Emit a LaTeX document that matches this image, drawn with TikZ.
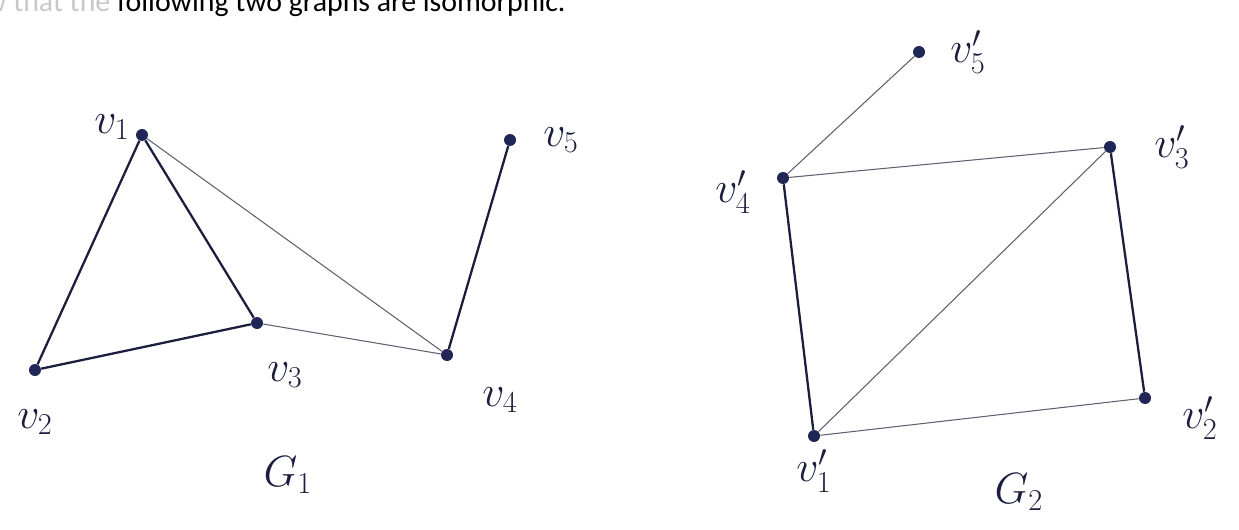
\documentclass[tikz,border=0pt]{standalone}
\usepackage{fontspec}
\usepackage{tikz}
\usetikzlibrary{positioning}
\newfontfamily\headfont{Carlito}
\definecolor{inkNavy}{RGB}{28,30,62}
\definecolor{inkDot}{RGB}{32,38,86}
\definecolor{inkThin}{RGB}{95,96,112}
\definecolor{inkFaint}{RGB}{200,200,200}
\tikzset{
    header/.style={font=\headfont\fontsize{17}{20}\selectfont, inner sep=0pt},
    vertex/.style={circle, fill=inkDot, inner sep=0pt, minimum size=2.4mm},
    vlabel/.style={font=\fontsize{24}{26}\selectfont, text=inkNavy, inner sep=0pt},
    glabel/.style={font=\fontsize{26}{28}\selectfont, text=inkNavy, inner sep=0pt},
    heavy/.style={draw=inkNavy, line width=1.3pt},
    light/.style={draw=inkThin, line width=0.6pt}
}

\begin{document}
\begin{tikzpicture}[x=0.02cm, y=-0.02cm, node distance=1cm, on grid]
  \clip (0,0) rectangle (1239,530);

  % Question line, cut at the top
  \node[header, anchor=base east] (title) at (566,12)
    {{\color{inkFaint}Show that the }following two graphs are isomorphic.};

  % Graph G1
  \node[vertex] (v1) at (142,135) {};
  \node[vertex] (v2) at (35,370) {};
  \node[vertex] (v3) at (257,323) {};
  \node[vertex] (v4) at (447,355) {};
  \node[vertex] (v5) at (510,140) {};

  \node[vlabel, above left=0.16cm and 0.6cm of v1] (l1) {$v_1$};
  \node[vlabel, below=1.04cm of v2] (l2) {$v_2$};
  \node[vlabel, below right=1.04cm and 0.56cm of v3] (l3) {$v_3$};
  \node[vlabel, below right=0.9cm and 1.06cm of v4] (l4) {$v_4$};
  \node[vlabel, right=1.02cm of v5] (l5) {$v_5$};
  \node[glabel] (g1) at (288,475) {$G_1$};

  \draw[heavy] (v1) -- (v2);
  \draw[heavy] (v1) -- (v3);
  \draw[heavy] (v2) -- (v3);
  \draw[light] (v1) -- (v4);
  \draw[light] (v3) -- (v4);
  \draw[heavy] (v4) -- (v5);

  % Graph G2
  \node[vertex] (u1) at (814,436) {};
  \node[vertex] (u2) at (1145,398) {};
  \node[vertex] (u3) at (1110,147) {};
  \node[vertex] (u4) at (783,178) {};
  \node[vertex] (u5) at (919,52) {};

  \node[vlabel, below=0.7cm of u1] (k1) {$v_1'$};
  \node[vlabel, below right=0.4cm and 1.1cm of u2] (k2) {$v_2'$};
  \node[vlabel, right=1.24cm of u3] (k3) {$v_3'$};
  \node[vlabel, below left=0.28cm and 1.0cm of u4] (k4) {$v_4'$};
  \node[vlabel, right=0.98cm of u5] (k5) {$v_5'$};
  \node[glabel] (g2) at (1019,492) {$G_2$};

  \draw[light] (u5) -- (u4);
  \draw[light] (u4) -- (u3);
  \draw[heavy] (u4) -- (u1);
  \draw[light] (u3) -- (u1);
  \draw[heavy] (u3) -- (u2);
  \draw[light] (u1) -- (u2);
\end{tikzpicture}
\end{document}
